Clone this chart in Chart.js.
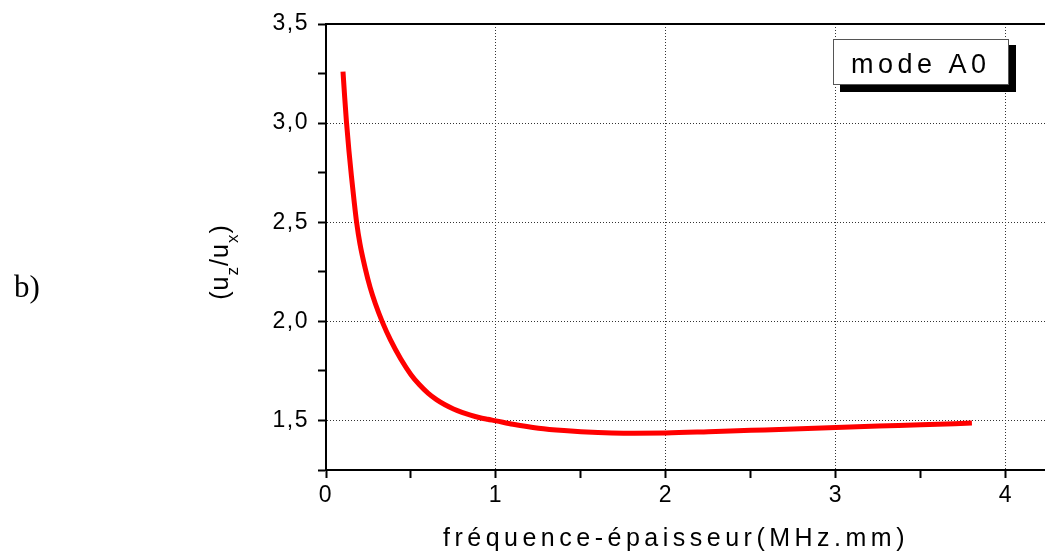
<!DOCTYPE html>
<html lang="fr">
<head>
  <meta charset="UTF-8" />
  <title>mode A0 - (uz/ux)</title>
  <style>
    body {
      margin: 0;
      background: #ffffff;
    }
    #wrap {
      position: relative;
      width: 1045px;
      height: 559px;
    }
  </style>
</head>
<body>
  <div id="wrap">
    <canvas id="chart"></canvas>
  </div>

  <script src="https://cdn.jsdelivr.net/npm/chart.js"></script>
  <script>
    // values
    const freqThickness = [0.10, 0.11, 0.12, 0.135, 0.15, 0.165, 0.18, 0.20, 0.23, 0.26, 0.29, 0.33, 0.38, 0.44, 0.50, 0.55, 0.60, 0.65, 0.70, 0.75, 0.80, 0.85, 0.90, 0.95, 1.00, 1.10, 1.25, 1.40, 1.60, 1.75, 2.00, 2.25, 2.50, 2.75, 3.00, 3.25, 3.50, 3.80];
    const ratioUzUx = [3.26, 3.13, 3.01, 2.86, 2.73, 2.61, 2.50, 2.39, 2.27, 2.17, 2.09, 2.00, 1.905, 1.81, 1.731, 1.68, 1.638, 1.605, 1.579, 1.558, 1.541, 1.527, 1.515, 1.506, 1.498, 1.481, 1.461, 1.449, 1.439, 1.436, 1.437, 1.443, 1.45, 1.457, 1.465, 1.472, 1.478, 1.487];

    const xTickValues = [0, 0.5, 1, 1.5, 2, 2.5, 3, 3.5, 4];
    const xLabeled = [0, 1, 2, 3, 4];
    const yTickValues = [1.25, 1.5, 1.75, 2, 2.25, 2.5, 2.75, 3, 3.25, 3.5];
    const yLabeled = [1.5, 2, 2.5, 3, 3.5];

    const legendText = 'mode A0';
    const xTitle = 'fréquence-épaisseur(MHz.mm)';
    const panelLabel = 'b)';

    const sansFont = "'Liberation Sans', Arial, sans-serif";
    const serifFont = "'Liberation Serif', 'Times New Roman', serif";

    const extras = {
      id: 'extras',
      beforeUpdate(chart) {
        chart.ctx.letterSpacing = '1.5px';
      },
      beforeDraw(chart) {
        chart.ctx.letterSpacing = '1.5px';
      },
      afterDraw(chart) {
        const ctx = chart.ctx;
        const area = chart.chartArea;
        ctx.save();

        // top frame line
        ctx.strokeStyle = '#000';
        ctx.lineWidth = 2;
        ctx.beginPath();
        ctx.moveTo(area.left - 1, area.top);
        ctx.lineTo(area.right, area.top);
        ctx.stroke();

        // legend box with shadow
        ctx.fillStyle = '#000';
        ctx.fillRect(840, 45, 176, 47);
        ctx.fillStyle = '#fff';
        ctx.fillRect(833, 39, 175, 45);
        ctx.strokeStyle = '#555';
        ctx.lineWidth = 1;
        ctx.strokeRect(833.5, 39.5, 175, 45);
        ctx.fillStyle = '#000';
        ctx.font = '27px ' + sansFont;
        ctx.letterSpacing = '4.5px';
        ctx.textAlign = 'left';
        ctx.textBaseline = 'alphabetic';
        ctx.fillText(legendText, 851, 73);

        // x axis title
        ctx.font = '25px ' + sansFont;
        ctx.letterSpacing = '4.5px';
        ctx.textAlign = 'center';
        ctx.fillText(xTitle, 676, 546);

        // y axis title (u_z/u_x) with subscripts
        ctx.translate(228, 262);
        ctx.rotate(-Math.PI / 2);
        ctx.letterSpacing = '1px';
        ctx.textAlign = 'left';
        const parts = [
          ['(u', 25, 0], ['z', 17, 10], ['/u', 25, 0], ['x', 17, 10], [')', 25, 0]
        ];
        let total = 0;
        parts.forEach(p => {
          ctx.font = p[1] + 'px ' + sansFont;
          total += ctx.measureText(p[0]).width;
        });
        let px = -total / 2;
        parts.forEach(p => {
          ctx.font = p[1] + 'px ' + sansFont;
          ctx.fillText(p[0], px, p[2]);
          px += ctx.measureText(p[0]).width;
        });
        ctx.restore();

        // panel label
        ctx.save();
        ctx.letterSpacing = '0px';
        ctx.fillStyle = '#000';
        ctx.font = '31px ' + serifFont;
        ctx.textAlign = 'left';
        ctx.textBaseline = 'alphabetic';
        ctx.fillText(panelLabel, 14, 297);
        ctx.restore();
      }
    };

    const gridColor = (labeled, edge) => c => {
      if (!c.tick) return 'rgba(0,0,0,0)';
      const v = c.tick.value;
      return labeled.includes(v) && v !== edge ? '#333' : 'rgba(0,0,0,0)';
    };

    new Chart(document.getElementById('chart'), {
      type: 'line',
      data: {
        datasets: [{
          data: freqThickness.map((x, i) => ({ x: x, y: ratioUzUx[i] })),
          borderColor: '#ff0000',
          borderWidth: 5,
          pointRadius: 0,
          fill: false,
          cubicInterpolationMode: 'monotone'
        }]
      },
      options: {
        responsive: true,
        maintainAspectRatio: false,
        animation: false,
        events: [],
        layout: { padding: { left: 0, top: 24, right: 0, bottom: 0 } },
        plugins: {
          legend: { display: false },
          tooltip: { enabled: false }
        },
        scales: {
          x: {
            type: 'linear',
            min: 0,
            max: 4.23,
            afterBuildTicks: s => { s.ticks = xTickValues.map(v => ({ value: v })); },
            afterFit: s => { s.height = 89; },
            ticks: {
              autoSkip: false,
              maxRotation: 0,
              padding: 4,
              color: '#000',
              font: { family: sansFont, size: 23 },
              callback: v => xLabeled.includes(v) ? String(v) : ''
            },
            grid: {
              color: gridColor(xLabeled, 0),
              lineWidth: 1,
              tickColor: '#000',
              tickWidth: 2,
              tickLength: 8
            },
            border: { display: true, color: '#000', width: 2, dash: [1, 2] }
          },
          y: {
            min: 1.25,
            max: 3.5,
            afterBuildTicks: s => { s.ticks = yTickValues.map(v => ({ value: v })); },
            afterFit: s => { s.width = 326; },
            ticks: {
              autoSkip: false,
              padding: 9,
              color: '#000',
              font: { family: sansFont, size: 23 },
              callback: v => yLabeled.includes(v) ? v.toFixed(1).replace('.', ',') : ''
            },
            grid: {
              color: gridColor(yLabeled, 3.5),
              lineWidth: 1,
              tickColor: '#000',
              tickWidth: 2,
              tickLength: 8
            },
            border: { display: true, color: '#000', width: 2, dash: [1, 2] }
          }
        }
      },
      plugins: [extras]
    });
  </script>
</body>
</html>
